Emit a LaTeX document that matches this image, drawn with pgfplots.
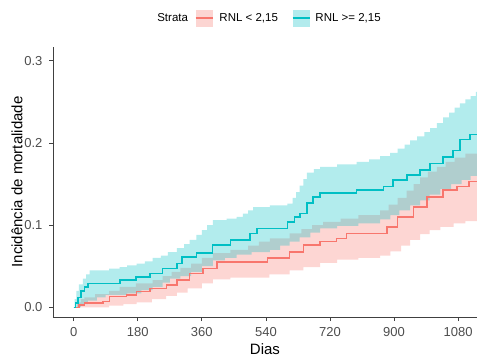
\documentclass[border=0pt]{standalone}
\usepackage{pgfplots}
\pgfplotsset{compat=1.18}
\usepgfplotslibrary{fillbetween}
\usepackage{fontspec}
\setmainfont{Liberation Sans}
\definecolor{rcol}{HTML}{F8766D}
\definecolor{ccol}{HTML}{00BFC4}
\definecolor{tickc}{HTML}{4D4D4D}
\begin{document}
\begin{tikzpicture}
\begin{axis}[
  scale only axis, width=424pt, height=270pt,
  xmin=-58, xmax=1133, ymin=-0.0118, ymax=0.3167,
  axis x line=bottom, axis y line=left,
  axis line style={-, black!75, line width=0.7pt},
  tick align=outside, major tick length=4pt,
  tick style={black!75, line width=0.7pt},
  xtick={0,180,360,540,720,900,1080},
  xticklabels={0,180,360,540,720,900,1080},
  ytick={0,0.1,0.2,0.3},
  yticklabels={0.0,0.1,0.2,0.3},
  tick label style={font=\fontsize{13}{15}\selectfont, text=tickc},
  xticklabel style={yshift=-3pt},
  yticklabel style={xshift=-3pt},
  xlabel={Dias}, ylabel={Incidência de mortalidade},
  label style={font=\fontsize{15}{17}\selectfont},
  xlabel style={yshift=0pt},
  ylabel style={yshift=-5pt},
  legend style={at={(0.5,1)}, anchor=center, xshift=4pt, yshift=29pt, draw=none,
    font=\fontsize{11.5}{13}\selectfont, legend columns=-1},
]
\addlegendimage{empty legend}
\addlegendentry{Strata\kern5pt}
\addlegendimage{legend image code/.code={\fill[draw=none, rcol, fill opacity=0.3] (0pt,-8.5pt) rectangle (17pt,8.5pt); \draw[rcol, line width=1.5pt] (0pt,0pt) -- (17pt,0pt);}}
\addlegendentry{\kern4pt RNL < 2,15\kern12pt}
\addlegendimage{legend image code/.code={\fill[draw=none, ccol, fill opacity=0.3] (0pt,-8.5pt) rectangle (17pt,8.5pt); \draw[ccol, line width=1.5pt] (0pt,0pt) -- (17pt,0pt);}}
\addlegendentry{\kern3pt RNL >= 2,15}

% red group bands
\addplot[name path=rhi, const plot, draw=none, forget plot] coordinates {
(0,0) (10,0.006) (20,0.010) (30,0.012) (60,0.016) (100,0.020) (129,0.025) (175,0.029)
(222,0.033) (250,0.038) (275,0.043) (300,0.048) (330,0.053) (360,0.060) (391,0.066)
(440,0.070) (490,0.075) (520,0.080) (551,0.084) (607,0.090) (640,0.095) (670,0.100)
(701,0.104) (750,0.108) (800,0.112) (861,0.118) (885,0.125) (910,0.133) (935,0.142)
(955,0.150) (973,0.158) (995,0.165) (1020,0.171) (1045,0.177) (1070,0.182) (1100,0.187)
(1133,0.191) (1200,0.191)};
\addplot[name path=rlo, const plot, draw=none, forget plot] coordinates {
(0,0) (60,0.0) (100,0.002) (140,0.004) (177,0.006) (220,0.010) (260,0.014) (290,0.018)
(320,0.023) (360,0.029) (391,0.034) (440,0.036) (550,0.040) (607,0.045) (645,0.049)
(692,0.054) (740,0.058) (800,0.060) (861,0.063) (890,0.068) (920,0.075) (945,0.082)
(973,0.089) (1000,0.094) (1030,0.098) (1067,0.102) (1100,0.105) (1133,0.107) (1200,0.107)};
\addplot[rcol, fill opacity=0.3, draw=none, forget plot] fill between[of=rhi and rlo];

% cyan group bands
\addplot[name path=chi, const plot, draw=none, forget plot] coordinates {
(0,0) (3,0.010) (8,0.020) (15,0.028) (26,0.035) (35,0.040) (45,0.045) (100,0.047)
(129,0.049) (150,0.051) (177,0.053) (200,0.056) (222,0.060) (245,0.063) (265,0.067)
(290,0.072) (310,0.077) (326,0.082) (345,0.088) (360,0.094) (375,0.100) (391,0.106)
(430,0.108) (458,0.110) (475,0.114) (490,0.118) (504,0.122) (551,0.124) (600,0.126)
(615,0.133) (625,0.140) (635,0.148) (645,0.156) (655,0.164) (675,0.168) (692,0.171)
(740,0.174) (795,0.177) (830,0.180) (861,0.184) (889,0.188) (910,0.193) (930,0.198)
(945,0.203) (965,0.208) (985,0.213) (1001,0.218) (1020,0.224) (1038,0.231) (1055,0.237)
(1070,0.243) (1085,0.248) (1100,0.253) (1115,0.257) (1130,0.262) (1200,0.262)};
\addplot[name path=clo, const plot, draw=none, forget plot] coordinates {
(0,0) (20,0.004) (40,0.008) (65,0.012) (90,0.015) (150,0.017) (190,0.021) (222,0.025)
(250,0.030) (270,0.035) (300,0.038) (330,0.043) (360,0.050) (391,0.057) (425,0.060)
(458,0.064) (500,0.067) (551,0.070) (580,0.075) (607,0.080) (635,0.085) (665,0.091)
(692,0.096) (740,0.099) (800,0.102) (861,0.107) (890,0.112) (915,0.118) (945,0.124)
(973,0.130) (1000,0.137) (1030,0.144) (1060,0.150) (1090,0.155) (1115,0.160) (1133,0.164)
(1200,0.164)};
\addplot[ccol, fill opacity=0.3, draw=none, forget plot] fill between[of=chi and clo];

% estimates
\addplot[const plot, rcol, line width=1.5pt, forget plot] coordinates {
(0,0) (15,0.003) (30,0.005) (82,0.007) (101,0.013) (149,0.015) (177,0.019)
(214,0.023) (261,0.027) (290,0.033) (326,0.041) (363,0.047) (402,0.055)
(545,0.060) (607,0.067) (645,0.076) (692,0.080) (739,0.084) (767,0.090)
(880,0.098) (910,0.110) (954,0.122) (992,0.134) (1038,0.143) (1077,0.147)
(1110,0.153) (1200,0.153)};
\addplot[const plot, ccol, line width=1.5pt, forget plot] coordinates {
(0,0) (5,0.005) (12,0.012) (20,0.020) (30,0.025) (40,0.029) (130,0.033)
(175,0.037) (215,0.041) (250,0.047) (290,0.053) (305,0.061) (345,0.066)
(390,0.076) (440,0.082) (495,0.090) (515,0.096) (600,0.104) (620,0.110)
(636,0.114) (655,0.127) (673,0.134) (692,0.139) (795,0.143) (870,0.147)
(897,0.155) (936,0.161) (973,0.167) (1001,0.175) (1038,0.183) (1066,0.191)
(1085,0.204) (1114,0.210) (1140,0.213) (1200,0.213)};
\end{axis}
\pgfresetboundingbox
\path[use as bounding box] (-53pt,-40pt) rectangle (424pt,317pt);
\end{tikzpicture}
\end{document}
